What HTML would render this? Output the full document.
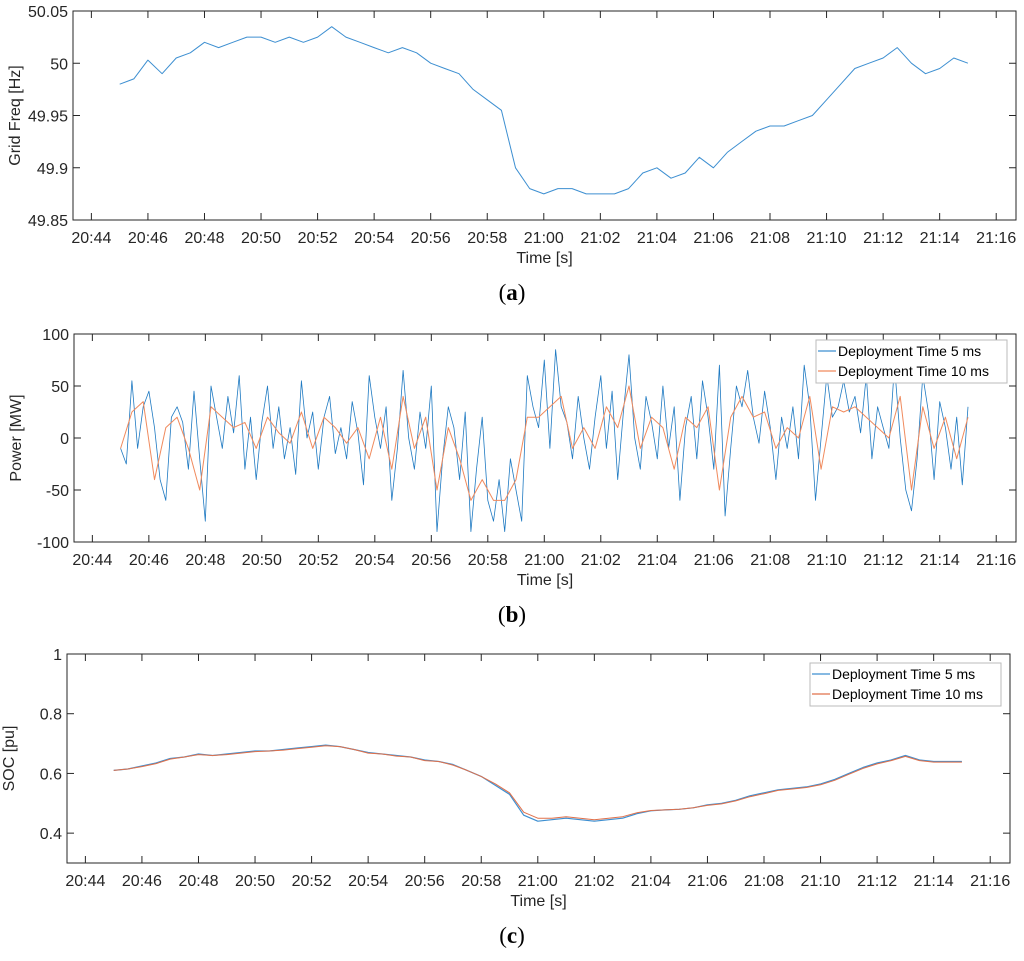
<!DOCTYPE html>
<html><head><meta charset="utf-8"><style>
body{margin:0;background:#fff;}
svg{display:block;font-family:"Liberation Sans",Arial,sans-serif;}
</style></head><body>
<svg id="s" width="1024" height="961" viewBox="0 0 1024 961"></svg>
<script>
const timeTicks=[44,46,48,50,52,54,56,58,60,62,64,66,68,70,72,74,76];
const freqT0=45, freqStep=0.5;
const freqVals=[49.98,49.985,50.003,49.99,50.005,50.01,50.02,50.015,50.02,50.025,50.025,50.02,50.025,50.02,50.025,50.035,50.025,50.02,50.015,50.01,50.015,50.01,50.0,49.995,49.99,49.975,49.965,49.955,49.9,49.88,49.875,49.88,49.88,49.875,49.875,49.875,49.88,49.895,49.9,49.89,49.895,49.91,49.9,49.915,49.925,49.935,49.94,49.94,49.945,49.95,49.965,49.98,49.995,50.0,50.005,50.015,50.0,49.99,49.995,50.005,50.0];
const freqTicks=[49.85,49.9,49.95,50,50.05];
const freqTickLabels=["49.85","49.9","49.95","50","50.05"];
const p5Step=0.2;
const power5=[-10,-25,55,-10,30,45,10,-40,-60,20,30,15,-30,45,-20,-80,50,20,-10,40,5,60,-30,20,-40,15,50,-10,30,-20,10,-35,55,0,25,-30,20,40,-15,10,-20,35,5,-45,60,20,-10,30,-60,-10,65,0,-30,25,-10,50,-90,-20,30,10,-40,25,-90,-30,20,-60,-80,-40,-90,-20,-50,-80,60,30,10,75,-10,85,30,15,-20,40,0,-30,20,60,-10,45,-40,25,80,0,-30,40,15,-20,50,-10,30,-60,10,40,-20,55,20,-30,70,-75,-10,50,30,65,20,-5,45,10,-40,20,-10,30,-20,70,30,-60,0,60,20,30,55,25,40,5,60,-20,30,10,-10,70,0,-50,-70,-20,60,25,-40,35,10,-30,20,-45,30];
const p10Step=0.4;
const power10=[-10,25,35,-40,10,20,-10,-50,30,20,10,15,-10,20,5,-5,25,-10,20,10,-5,10,-20,20,-30,40,-10,20,-50,10,-20,-60,-40,-60,-60,-40,20,20,30,40,-10,10,-10,30,10,50,-10,20,10,-30,20,10,30,-50,20,40,20,25,-10,10,0,40,-30,30,25,30,20,10,0,40,-50,30,-10,20,-20,20];
const powerTicks=[-100,-50,0,50,100];
const socStep=0.5;
const soc5=[0.61,0.615,0.625,0.635,0.65,0.655,0.665,0.66,0.665,0.67,0.675,0.675,0.68,0.685,0.69,0.695,0.69,0.68,0.67,0.665,0.66,0.655,0.645,0.64,0.63,0.61,0.59,0.56,0.53,0.46,0.44,0.445,0.45,0.445,0.44,0.445,0.45,0.465,0.475,0.478,0.48,0.485,0.495,0.5,0.51,0.525,0.535,0.545,0.55,0.555,0.565,0.58,0.6,0.62,0.635,0.645,0.66,0.645,0.64,0.64,0.64];
const soc10=[0.61,0.615,0.623,0.633,0.648,0.655,0.663,0.66,0.663,0.668,0.673,0.675,0.678,0.683,0.688,0.693,0.69,0.68,0.668,0.665,0.658,0.655,0.643,0.64,0.628,0.61,0.59,0.565,0.535,0.47,0.45,0.45,0.455,0.45,0.445,0.45,0.455,0.468,0.476,0.478,0.48,0.485,0.493,0.498,0.508,0.522,0.532,0.543,0.548,0.553,0.562,0.577,0.597,0.617,0.632,0.643,0.657,0.643,0.638,0.638,0.638];
const socTicks=[0.4,0.6,0.8,1];
const socTickLabels=["0.4","0.6","0.8","1"];

const S=document.getElementById('s');
const NS='http://www.w3.org/2000/svg';
function mk(tag,attrs,parent){const e=document.createElementNS(NS,tag);for(const k in attrs)e.setAttribute(k,attrs[k]);(parent||S).appendChild(e);return e;}
const TMIN=43.35,TMAX=76.7;
function fmt(t){const h=20+Math.floor(t/60),m=t%60;return h+":"+String(m).padStart(2,'0');}

function panel(name,X0,X1,top,bot,ymin,ymax,yt,ytl,ylabel,letter){
  const g=mk('g',{});
  
  
  const xs=t=>X0+(t-TMIN)/(TMAX-TMIN)*(X1-X0);
  const ys=v=>bot-(v-ymin)/(ymax-ymin)*(bot-top);
  const r=mk('rect',{x:X0,y:top,width:X1-X0,height:bot-top,fill:'none',stroke:'#262626','stroke-width':1},g);
  
  
  timeTicks.forEach(t=>{
    const x=xs(t);
    mk('line',{x1:x,x2:x,y1:bot,y2:bot-7,stroke:'#262626'},g);
    mk('line',{x1:x,x2:x,y1:top,y2:top+7,stroke:'#262626'},g);
    const l=mk('text',{x:x,y:bot+23,'text-anchor':'middle','font-size':16,fill:'#262626'},g);
    l.textContent=fmt(t);
    
    
  });
  yt.forEach((v,i)=>{
    const y=ys(v);
    mk('line',{x1:X0,x2:X0+7,y1:y,y2:y,stroke:'#262626'},g);
    mk('line',{x1:X1,x2:X1-7,y1:y,y2:y,stroke:'#262626'},g);
    const l=mk('text',{x:X0-5,y:y+6,'text-anchor':'end','font-size':16,fill:'#262626'},g);
    l.textContent=ytl?ytl[i]:String(v);
    
    
  });
  const xt=mk('text',{x:(X0+X1)/2,y:bot+43,'text-anchor':'middle','font-size':16,fill:'#262626'},g);
  xt.textContent='Time [s]';
  
  
  const yl=mk('text',{x:0,y:0,'text-anchor':'middle','font-size':16,fill:'#262626',transform:`translate(${X0-53},${(top+bot)/2}) rotate(-90)`},g);
  yl.textContent=ylabel;
  
  
  const cap=mk('text',{x:512,y:bot+80,'text-anchor':'middle','font-size':23,'font-family':'Liberation Serif, serif',fill:'#000'},g);
  cap.innerHTML='(<tspan font-weight="bold">'+letter+'</tspan>)';
  
  
  return {g,xs,ys};
}
function line(p,vals,t0,step,color,w,name){
  const d=vals.map((v,i)=>(i?'L':'M')+p.xs(t0+i*step).toFixed(1)+','+p.ys(v).toFixed(1)).join('');
  const e=mk('path',{d:d,fill:'none',stroke:color,'stroke-width':w,'stroke-linejoin':'round'},p.g);
  
  
}
function legend(p,x,y,labels,colors){
  const lg=mk('g',{},p.g);
  
  
  mk('rect',{x:x,y:y,width:191,height:43,fill:'#fff',stroke:'#bbb','stroke-width':1},lg);
  labels.forEach((lab,i)=>{
    const yy=y+11+i*20;
    const it=mk('g',{},lg);
    
    
    mk('line',{x1:x+2,x2:x+20,y1:yy,y2:yy,stroke:colors[i],'stroke-width':1.2},it);
    const t=mk('text',{x:x+22,y:yy+5,'font-size':14,fill:'#000'},it);
    t.textContent=lab;
  });
}
const pa=panel('frequency',73,1016,11,220,49.85,50.05,freqTicks,freqTickLabels,'Grid Freq [Hz]','a');
line(pa,freqVals,freqT0,freqStep,'#3d8fd1',1,'frequency-line');
const pb=panel('power',74,1016,334,542,-100,100,powerTicks,null,'Power [MW]','b');
line(pb,power5,45,p5Step,'#1f7ac2',0.8,'power-5ms-line');
line(pb,power10,45,p10Step,'#f08a5d',1,'power-10ms-line');
legend(pb,816,340,['Deployment Time 5 ms','Deployment Time 10 ms'],['#3d8fd1','#f08a5d']);
const pc=panel('soc',67,1010,654,863,0.3,1,socTicks,socTickLabels,'SOC [pu]','c');
line(pc,soc5,45,socStep,'#3d8fd1',1.2,'soc-5ms-line');
line(pc,soc10,45,socStep,'#e0704a',1,'soc-10ms-line');
legend(pc,810,663,['Deployment Time 5 ms','Deployment Time 10 ms'],['#3d8fd1','#e0704a']);
</script>
</body></html>
